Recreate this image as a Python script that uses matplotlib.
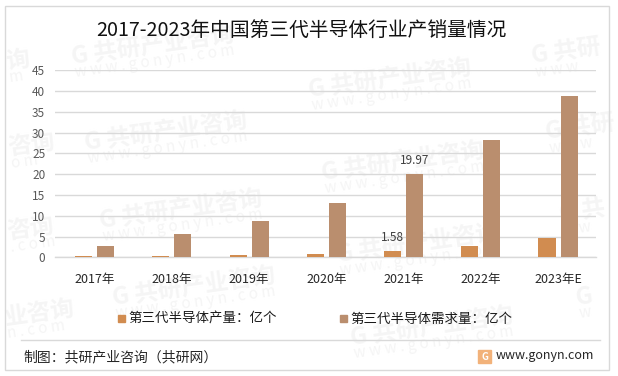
import matplotlib
matplotlib.use('Agg')
import matplotlib.pyplot as plt
from matplotlib.patches import Rectangle
import numpy as np

plt.rcParams['font.family'] = ['Noto Sans CJK SC', 'DejaVu Sans']

W, H = 618, 376

years = ['2017年', '2018年', '2019年', '2020年', '2021年', '2022年', '2023年E']
output = [0.3, 0.3, 0.5, 0.8, 1.58, 2.7, 4.65]
demand = [2.7, 5.6, 8.7, 13.0, 19.97, 28.2, 38.8]
yticks = [0, 5, 10, 15, 20, 25, 30, 35, 40, 45]

title = '2017-2023年中国第三代半导体行业产销量情况'
output_name = '第三代半导体产量：亿个'
demand_name = '第三代半导体需求量：亿个'
source = '制图：共研产业咨询（共研网）'
site = 'www.gonyn.com'

FULL = 'G 共研产业咨询'
URL = 'w w w . g o n y n . c o m'

# watermark anchors, pixels from top left; edge ones only show the part that fits
marks = [(72, 57, FULL, URL), (85, 143, FULL, URL), (100, 221, FULL, URL), (113, 298, FULL, URL),
         (309, 90, FULL, URL), (322, 173, FULL, URL), (337, 255, FULL, URL), (351, 338, FULL, URL),
         (532, 57, 'G 共研', 'w w w'), (546, 133, 'G 共研', 'w w w'),
         (560, 215, 'G 共', 'w w'), (576, 298, 'G', 'w'),
         (6, 62, '询', 'm'), (8, 148, '咨询', 'o m'), (7, 232, '咨询', '. c o m'), (4, 318, '业咨询', 'n . c o m')]

ORANGE = '#d18c50'
BROWN = '#ba8e6e'
GRID = '#d9d9d9'


def fx(px):
    return px / W


def fy(py):
    return 1 - py / H


fig = plt.figure(figsize=(W / 100, H / 100), dpi=100, facecolor='white')

for mx, my, mark, url in marks:
    fig.text(fx(mx), fy(my), mark, fontsize=17, fontweight='bold', color='#f5f5f5',
             rotation=8, rotation_mode='anchor', va='center', zorder=0)
    fig.text(fx(mx + 3), fy(my + 16), url, fontsize=11, color='#f5f5f5',
             rotation=8, rotation_mode='anchor', va='center', zorder=0)

ax = fig.add_axes([fx(55), fy(257.3), fx(540.7), (257.3 - 70.3) / H], zorder=2)
ax.patch.set_alpha(0)

x = np.arange(len(years)) + 0.012
width = 17 / 77.2
ax.bar(x - 11 / 77.2, output, width, color=ORANGE, zorder=3)
ax.bar(x + 11 / 77.2, demand, width, color=BROWN, zorder=3)

ax.set_xlim(-0.5, 6.5)
ax.set_ylim(0, 45)
ax.set_yticks(yticks)
ax.set_xticks(x)
ax.set_xticklabels(years, fontsize=9, color='#262626')
ax.tick_params(axis='x', length=0, pad=11)
ax.tick_params(axis='y', length=0, pad=7, labelsize=8.5, labelcolor='#595959')
ax.grid(axis='y', color=GRID, linewidth=1, zorder=1)
ax.set_axisbelow(True)
for s in ['top', 'right', 'left']:
    ax.spines[s].set_visible(False)
ax.spines['bottom'].set_color(GRID)
ax.spines['bottom'].set_linewidth(1)

ax.annotate('1.58', (x[4] - 11 / 77.2, output[4]), xytext=(0, 5), textcoords='offset points',
            ha='center', va='bottom', fontsize=8.5, color='#404040', zorder=4)
ax.annotate('19.97', (x[4] + 11 / 77.2, demand[4]), xytext=(0, 5), textcoords='offset points',
            ha='center', va='bottom', fontsize=8.5, color='#404040', zorder=4)

fig.text(fx(301.5), fy(30), title, fontsize=14.2, color='#111111', ha='center', va='center')

# legend by hand so the spacing matches
fig.add_artist(Rectangle((fx(118), fy(322)), fx(7), 7 / H, color=ORANGE, transform=fig.transFigure))
fig.text(fx(128), fy(319), output_name, fontsize=9.7, color='#1a1a1a', va='center')
fig.add_artist(Rectangle((fx(340), fy(322)), fx(7), 7 / H, color=BROWN, transform=fig.transFigure))
fig.text(fx(350), fy(319), demand_name, fontsize=9.7, color='#1a1a1a', va='center')

# footer
fig.add_artist(plt.Line2D([fx(21), fx(600)], [fy(339.5), fy(339.5)], color='#d9d9d9', linewidth=1))
fig.text(fx(23), fy(357), source, fontsize=10, color='#262626', va='center')
fig.add_artist(Rectangle((fx(478), fy(363)), fx(13), 13 / H, color='#f2b27a', transform=fig.transFigure))
fig.text(fx(484.5), fy(356.5), 'G', fontsize=7, fontweight='bold', color='white', ha='center', va='center')
fig.text(fx(496), fy(356), site, fontsize=9, color='#262626', va='center')

# outer frame
fig.add_artist(Rectangle((fx(4.5), fy(369.5)), fx(604), 363.5 / H, fill=False,
                         edgecolor='#d9d9d9', linewidth=1, transform=fig.transFigure))

fig.savefig('out.png', dpi=100, facecolor='white')
